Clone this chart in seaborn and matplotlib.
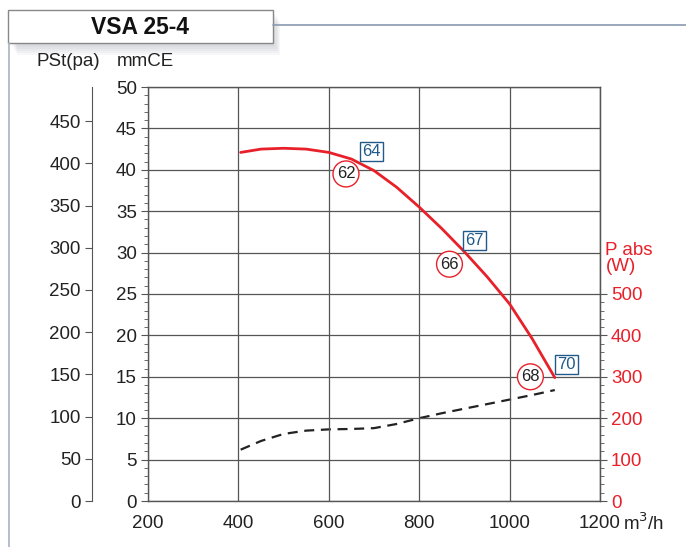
import matplotlib
matplotlib.use("Agg")
import matplotlib.pyplot as plt
from matplotlib.patches import Rectangle
from matplotlib.ticker import MultipleLocator, FixedLocator
import pandas as pd
import seaborn as sns

# pressure curve (mmCE) and absorbed power (W) vs flow (m3/h)
flow = [405, 450, 500, 550, 600, 650, 700, 750, 800, 850, 900, 950, 1000, 1050, 1100]
pst_mmce = [42.1, 42.5, 42.6, 42.5, 42.1, 41.3, 39.9, 37.9, 35.5, 32.9, 30.1, 27.1, 23.8, 19.6, 14.9]
p_abs = [124, 145, 162, 170, 173, 174, 176, 186, 200, 212, 223, 234, 245, 256, 268]

# noise labels: circles (red) and boxes (blue)
circle_lbl = ["62", "66", "68"]
circle_x = [638, 867, 1046]
circle_y = [39.5, 28.6, 15.0]
box_lbl = ["64", "67", "70"]
box_x = [694, 922, 1126]
box_y = [42.15, 31.5, 16.5]

x_ticks = [200, 400, 600, 800, 1000, 1200]
mmce_ticks = list(range(0, 55, 5))
pa_ticks = list(range(0, 500, 50))
w_ticks = list(range(0, 600, 100))

RED = "#e8202a"
BLUE = "#1f5a8a"
GRID = "#555555"
TXT = "#222222"
FS = 13.5

sns.set_style("white")
plt.rcParams["font.family"] = ["Liberation Sans", "DejaVu Sans"]

W, H = 686, 547
fig = plt.figure(figsize=(W / 100, H / 100), dpi=100)


def fx(px):
    return px / W


def fy(py):
    return 1 - py / H


ax = fig.add_axes([fx(148), fy(501), fx(600) - fx(148), fy(87) - fy(501)])

df = pd.DataFrame({"flow": flow, "pst": pst_mmce, "pabs": p_abs})
sns.lineplot(data=df, x="flow", y="pst", ax=ax, color=RED, linewidth=2.0)

ax.set_xlim(200, 1200)
ax.set_ylim(0, 50)
ax.set_xticks(x_ticks)
ax.set_yticks(mmce_ticks)
ax.xaxis.set_minor_locator(MultipleLocator(50))
ax.yaxis.set_minor_locator(MultipleLocator(1))
ax.set_xlabel("")
ax.set_ylabel("")
ax.grid(True, which="major", color=GRID, linewidth=0.9)
ax.set_axisbelow(True)
for s in ax.spines.values():
    s.set_color(GRID)
    s.set_linewidth(1.0)
ax.tick_params(axis="both", which="major", direction="out", length=5, width=0.8,
               color=GRID, labelsize=FS, labelcolor=TXT, pad=3)
ax.tick_params(axis="both", which="minor", direction="out", length=3, width=0.6, color=GRID)
ax.tick_params(axis="x", pad=5)

# power on right axis
axw = ax.twinx()
sns.lineplot(data=df, x="flow", y="pabs", ax=axw, color=TXT, linewidth=1.6,
             linestyle=(0, (4.5, 3)))
axw.set_ylim(0, 1000)
axw.set_yticks(w_ticks)
axw.yaxis.set_minor_locator(FixedLocator([v for v in range(0, 520, 20) if v % 100]))
axw.set_ylabel("")
axw.spines["right"].set_color(GRID)
for s in ["top", "left", "bottom"]:
    axw.spines[s].set_visible(False)
axw.tick_params(axis="y", which="major", direction="out", length=5, width=0.8,
                color=GRID, labelsize=FS, labelcolor=RED, pad=3)
axw.tick_params(axis="y", which="minor", direction="out", length=3, width=0.6, color=GRID)
axw.set_zorder(ax.get_zorder() - 1)
ax.patch.set_visible(False)
ax.text(1.012, 0.585, "P abs\n(W)", transform=ax.transAxes, color=RED,
        fontsize=FS, ha="left", va="center", linespacing=0.9)

# pascal axis on the left
axp = ax.twinx()
axp.set_ylim(0, 50 * 9.81)
axp.set_yticks(pa_ticks)
axp.spines["left"].set_position(("axes", -0.124))
axp.spines["left"].set_visible(True)
axp.spines["left"].set_color(GRID)
for s in ["top", "right", "bottom"]:
    axp.spines[s].set_visible(False)
axp.yaxis.set_ticks_position("left")
axp.yaxis.set_label_position("left")
axp.tick_params(axis="y", direction="out", length=5, width=0.8, color=GRID,
                labelsize=FS, labelcolor=TXT, pad=3)

# noise level markers
for lbl, xv, yv in zip(circle_lbl, circle_x, circle_y):
    ax.annotate(lbl, (xv, yv), ha="center", va="center", fontsize=12, color=TXT,
                bbox=dict(boxstyle="circle,pad=0.22", fc="white", ec=RED, lw=1.0), zorder=5)
for lbl, xv, yv in zip(box_lbl, box_x, box_y):
    ax.annotate(lbl, (xv, yv), ha="center", va="center", fontsize=12, color=BLUE,
                bbox=dict(boxstyle="square,pad=0.12", fc="white", ec=BLUE, lw=1.0), zorder=5)

# unit labels
fig.text(fx(37), fy(62), "PSt(pa)", fontsize=FS, color=TXT, va="center")
fig.text(fx(117), fy(62), "mmCE", fontsize=FS, color=TXT, va="center")
fig.text(fx(623), fy(523), "m$^3$/h", fontsize=FS, color=TXT, va="center")

# title box with soft shadow and frame lines
for i in range(6):
    d = 2 + 2 * i
    fig.patches.append(Rectangle((fx(10 + d * 0.6), fy(43 + d)), fx(263), fy(10) - fy(43),
                                 transform=fig.transFigure, fc="#4a5a70", ec="none", alpha=0.045))
fig.lines.append(plt.Line2D([fx(273), 1], [fy(25), fy(25)], transform=fig.transFigure,
                            color="#8a9ab0", lw=1.2))
fig.lines.append(plt.Line2D([fx(8.5), fx(8.5)], [fy(43), 0], transform=fig.transFigure,
                            color="#a8b4c4", lw=1.2))
fig.patches.append(Rectangle((fx(8), fy(43)), fx(265), fy(10) - fy(43),
                             transform=fig.transFigure, fc="white", ec="#888888", lw=1.0))
fig.text(fx(140), fy(27), "VSA 25-4", fontsize=16.5, fontweight="bold",
         color="#111111", ha="center", va="center")

fig.savefig("out.png", dpi=100)
